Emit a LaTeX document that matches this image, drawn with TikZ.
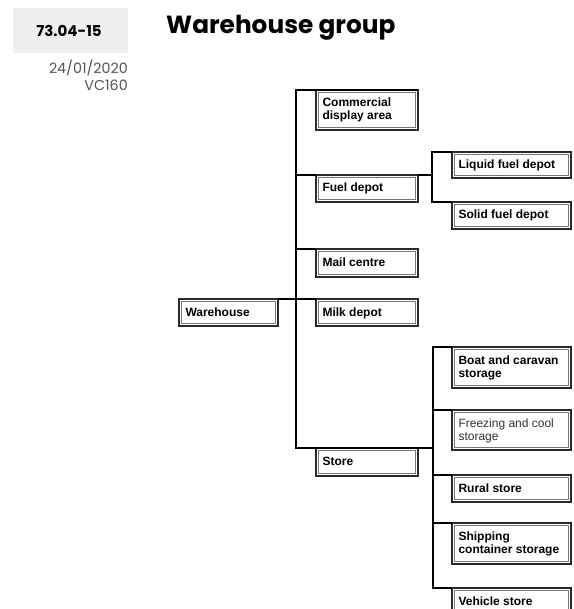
\documentclass[tikz,border=0pt]{standalone}
\usepackage{fontspec}
\setmainfont{Poppins}
\newfontfamily\arialf{Liberation Sans}
\definecolor{hdrgray}{HTML}{EFEFEF}
\definecolor{subgray}{HTML}{555555}
\definecolor{boxline}{HTML}{2A2A2A}
\definecolor{innerline}{HTML}{777777}
\newcommand{\obox}[7][\bfseries]{%
  \node[bx, minimum width=#5, minimum height=#6] (#2) at (#3,#4) {};
  \draw[shade line] ([yshift=-1pt]#2.north west) -- (#2.south west) -- ([xshift=-1pt]#2.south east);
  \draw[inner frame] ([xshift=2.4pt,yshift=-2.4pt]#2.north west) rectangle ([xshift=-2.4pt,yshift=2.4pt]#2.south east);
  \node[tx, font=\arialf#1\fontsize{12}{13}\selectfont] (#2t) at (#2.north west) [xshift=6.5pt, yshift=-8pt] {\rule{0pt}{9pt}#7};}
\begin{document}
\begin{tikzpicture}[x=1pt,y=-1pt,
  bx/.style={draw=boxline, line width=1.1pt, fill=white,
    anchor=north west, inner sep=0pt, outer sep=0pt},
  shade line/.style={draw=boxline, line width=2.2pt},
  inner frame/.style={draw=innerline, line width=0.5pt},
  tx/.style={anchor=north west, inner sep=0pt, outer sep=0pt, align=left},
  conn/.style={line width=1.6pt, black}]
\useasboundingbox (0,0) rectangle (573,609);
\clip (0,0) rectangle (573,609);
% header
\node[fill=hdrgray, minimum width=115pt, minimum height=45pt, anchor=north west, inner sep=0pt] (code) at (13,8) {};
\node[anchor=base, inner sep=0pt, font=\bfseries\fontsize{15}{17}\selectfont] (codet) at (69,37) {73.04-15};
\node[anchor=base west, inner sep=0pt, font=\bfseries\fontsize{24.8}{28}\selectfont] (title) at (166,33.5) {Warehouse group};
\node[anchor=base east, inner sep=0pt, text=subgray, font=\fontsize{14.3}{16}\selectfont] (date) at (128,74) {24/01/2020};
\node[anchor=base east, inner sep=0pt, text=subgray, font=\fontsize{14.3}{16}\selectfont] (ver) at (128,90.5) {VC160};
% boxes
\obox{wh}{179}{299}{99}{27}{Warehouse}
\obox{comm}{316}{90}{102}{40}{Commercial\\display area}
\obox{fuel}{316}{175}{102}{27}{Fuel depot}
\obox{mail}{316}{249}{102}{28}{Mail centre}
\obox{milk}{316}{299}{102}{27}{Milk depot}
\obox{store}{316}{448}{102}{28}{Store}
\obox{liq}{452}{152}{119}{26}{Liquid fuel depot}
\obox{solid}{452}{202}{119}{27}{Solid fuel depot}
\obox{boat}{452}{347}{119}{41}{Boat and caravan\\storage}
\obox[\color{black!80}]{freez}{452}{410}{119}{40}{Freezing and cool\\storage}
\obox{rural}{452}{475}{119}{27}{Rural store}
\obox{ship}{452}{523}{119}{41}{Shipping\\container storage}
\obox{veh}{452}{588}{119}{27}{Vehicle store}
% connectors
\draw[conn] (comm.north east) -- (comm.north west) -- ++(-20,0) coordinate (trtop) |- (store.north east);
\draw[conn] (fuel.north west) -- ++(-20,0);
\draw[conn] (mail.north west) -- ++(-20,0);
\draw[conn] (wh.north east) -- (milk.north west);
\draw[conn] (fuel.north east) -- ++(14,0);
\draw[conn] (liq.north west) -- ++(-20,0) |- (solid.north west);
\draw[conn] (boat.north west) -- ++(-19,0) coordinate (st) |- (veh.north west);
\draw[conn] (store.north east) -- (store.north east -| st);
\draw[conn] (freez.north west) -- ++(-19,0);
\draw[conn] (rural.north west) -- ++(-19,0);
\draw[conn] (ship.north west) -- ++(-19,0);
\end{tikzpicture}
\end{document}
